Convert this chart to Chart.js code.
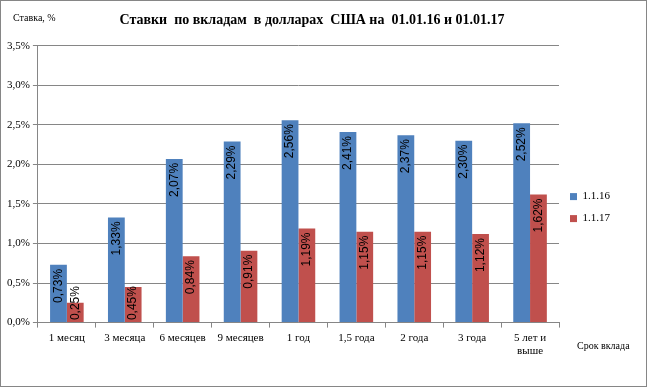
<!DOCTYPE html>
<html>
<head>
<meta charset="utf-8">
<script src="https://cdn.jsdelivr.net/npm/chart.js@4/dist/chart.umd.min.js"></script>
<style>
    html, body { margin: 0; padding: 0; background: #fff; }
    #wrap { width: 647px; height: 387px; }
</style>
</head>
<body>
<div id="wrap"><canvas id="chart" width="647" height="387"></canvas></div>
<script>
// данные
const categories = ['1 месяц', '3 месяца', '6 месяцев', '9 месяцев', '1 год', '1,5 года', '2 года', '3 года', ['5 лет и', 'выше']];
const rates2016 = [0.73, 1.33, 2.07, 2.29, 2.56, 2.41, 2.37, 2.30, 2.52];
const rates2017 = [0.25, 0.45, 0.84, 0.91, 1.19, 1.15, 1.15, 1.12, 1.62];
const seriesNames = ['1.1.16', '1.1.17'];
const yTicks = [0, 0.5, 1, 1.5, 2, 2.5, 3, 3.5];

const serif = '"Liberation Serif", "Times New Roman", serif';

function fmt(v, digits) {
    return v.toFixed(digits).replace('.', ',') + '%';
}

// рамка и подписи осей
const framePlugin = {
    id: 'frame',
    beforeDraw(chart) {
        const ctx = chart.ctx;
        ctx.save();
        ctx.fillStyle = '#fff';
        ctx.fillRect(0, 0, chart.width, chart.height);
        ctx.restore();
    },
    afterDraw(chart) {
        const ctx = chart.ctx;
        ctx.save();
        ctx.strokeStyle = '#868686';
        ctx.lineWidth = 1;
        ctx.strokeRect(0.5, 0.5, chart.width - 1, chart.height - 1);
        ctx.fillStyle = '#000';
        ctx.font = '10px ' + serif;
        ctx.textBaseline = 'middle';
        ctx.fillText('Ставка, %', 13, 18);
        ctx.fillText('Срок вклада', 577, 346);
        ctx.restore();
    }
};

// подписи значений внутри столбцов
const valueLabels = {
    id: 'valueLabels',
    afterDatasetsDraw(chart) {
        const ctx = chart.ctx;
        ctx.save();
        ctx.font = '12px "Liberation Sans", Arial, sans-serif';
        ctx.fillStyle = '#000';
        ctx.textBaseline = 'middle';
        ctx.textAlign = 'left';
        chart.data.datasets.forEach((ds, i) => {
            const meta = chart.getDatasetMeta(i);
            meta.data.forEach((bar, j) => {
                const text = fmt(ds.data[j], 2);
                const w = ctx.measureText(text).width;
                const base = bar.base;
                let top = bar.y + 4;
                if (top + w > base - 2) top = base - 2 - w;
                ctx.save();
                ctx.translate(bar.x, top + w);
                ctx.rotate(-Math.PI / 2);
                ctx.fillText(text, 0, 0);
                ctx.restore();
            });
        });
        ctx.restore();
    }
};

function buildConfig() {
    return {
        type: 'bar',
        data: {
            labels: categories,
            datasets: [
                { label: seriesNames[0], data: rates2016, backgroundColor: '#4F81BD' },
                { label: seriesNames[1], data: rates2017, backgroundColor: '#C0504D' }
            ]
        },
        options: {
            responsive: false,
            animation: false,
            datasets: { bar: { categoryPercentage: 0.58, barPercentage: 1 } },
            layout: { padding: { left: 4, right: 27, top: 0, bottom: 25 } },
            plugins: {
                title: {
                    display: true,
                    text: 'Ставки  по вкладам  в долларах  США на  01.01.16 и 01.01.17',
                    color: '#000',
                    font: { family: serif, size: 14, weight: 'bold' },
                    padding: { top: 12, bottom: 17 }
                },
                legend: {
                    position: 'right',
                    title: { display: true, text: ' ', font: { size: 1 }, padding: { top: 0, bottom: 52 } },
                    labels: {
                        boxWidth: 7,
                        boxHeight: 7,
                        padding: 11,
                        color: '#000',
                        font: { family: serif, size: 11 }
                    }
                },
                tooltip: { enabled: false }
            },
            scales: {
                x: {
                    grid: { drawOnChartArea: false, drawTicks: true, tickLength: 5, color: '#868686', offset: true },
                    border: { color: '#868686' },
                    ticks: { color: '#000', font: { family: serif, size: 11 }, padding: 4, maxRotation: 0 }
                },
                y: {
                    min: 0,
                    max: 3.5,
                    afterBuildTicks(scale) {
                        scale.ticks = yTicks.map(v => ({ value: v }));
                    },
                    grid: { color: '#868686', tickLength: 5 },
                    border: { color: '#868686' },
                    ticks: {
                        color: '#000',
                        font: { family: serif, size: 11 },
                        padding: 3,
                        callback: v => fmt(v, 1)
                    }
                }
            }
        },
        plugins: [framePlugin, valueLabels]
    };
}

const myChart = new Chart(document.getElementById('chart'), buildConfig());
</script>
</body>
</html>
